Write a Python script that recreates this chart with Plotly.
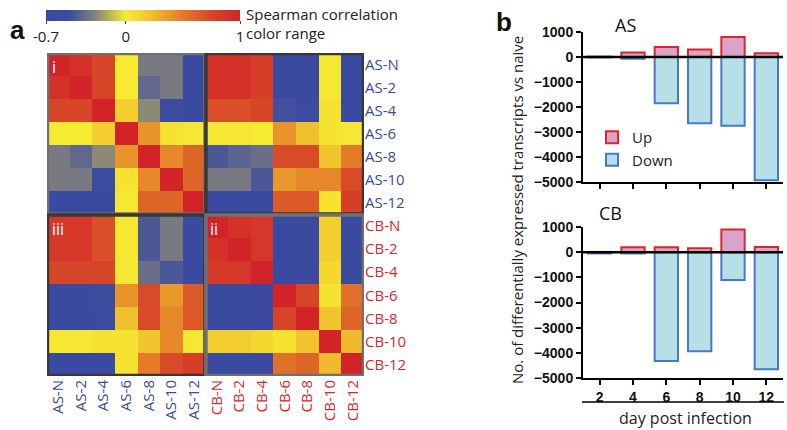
import plotly.graph_objects as go

W, H = 787, 430
def px(x): return x / W
def py(y): return 1 - y / H

labels = ["AS-N", "AS-2", "AS-4", "AS-6", "AS-8", "AS-10", "AS-12",
          "CB-N", "CB-2", "CB-4", "CB-6", "CB-8", "CB-10", "CB-12"]

corr = [
    [1.00, 0.90, 0.75, 0.00, -0.30, -0.30, -0.70,   0.90, 0.90, 0.80, -0.70, -0.70, 0.02, -0.70],
    [0.90, 1.00, 0.75, 0.00, -0.38, -0.30, -0.70,   0.90, 0.90, 0.80, -0.70, -0.70, 0.02, -0.70],
    [0.75, 0.75, 1.00, 0.15, -0.25, -0.58, -0.70,   0.70, 0.70, 0.75, -0.48, -0.58, 0.05, -0.70],
    [0.00, 0.00, 0.15, 1.00, 0.40, 0.05, 0.02,      0.02, 0.02, 0.00, 0.40, 0.22, 0.05, 0.02],
    [-0.30, -0.38, -0.25, 0.40, 1.00, 0.45, 0.60,   -0.45, -0.40, -0.35, 0.72, 0.72, 0.20, 0.50],
    [-0.30, -0.30, -0.58, 0.05, 0.45, 1.00, 0.60,   -0.30, -0.30, -0.45, 0.38, 0.45, 0.45, 0.72],
    [-0.70, -0.70, -0.70, 0.02, 0.60, 0.60, 1.00,   -0.70, -0.70, -0.70, 0.65, 0.65, 0.05, 0.80],
    [0.85, 0.85, 0.70, 0.02, -0.45, -0.30, -0.70,   1.00, 0.90, 0.85, -0.70, -0.70, 0.15, -0.70],
    [0.85, 0.85, 0.70, 0.02, -0.45, -0.30, -0.70,   0.90, 1.00, 0.85, -0.70, -0.70, 0.15, -0.70],
    [0.75, 0.75, 0.75, 0.02, -0.35, -0.45, -0.70,   0.85, 0.85, 1.00, -0.66, -0.66, 0.10, -0.70],
    [-0.70, -0.70, -0.50, 0.40, 0.72, 0.38, 0.65,   -0.70, -0.70, -0.66, 1.00, 0.75, 0.05, 0.55],
    [-0.70, -0.70, -0.58, 0.22, 0.72, 0.45, 0.65,   -0.70, -0.70, -0.66, 0.75, 1.00, 0.20, 0.60],
    [0.02, 0.02, 0.05, 0.05, 0.20, 0.45, 0.02,      0.15, 0.15, 0.10, 0.05, 0.20, 1.00, 0.25],
    [-0.70, -0.70, -0.70, 0.05, 0.50, 0.72, 0.80,   -0.70, -0.70, -0.70, 0.55, 0.60, 0.25, 1.00],
]

days = ["2", "4", "6", "8", "10", "12"]
as_up = [15, 180, 400, 300, 800, 150]
as_down = [-15, -70, -1850, -2650, -2750, -4930]
cb_up = [10, 200, 200, 160, 900, 210]
cb_down = [-50, -50, -4320, -3940, -1110, -4650]

colorbar_ticks = [-0.7, 0, 1]

BLUE_TXT = "#3b4aa3"
RED_TXT = "#d8282a"

cscale = [
    [0.00, "rgb(58,74,160)"],
    [0.12, "rgb(62,76,158)"],
    [0.25, "rgb(128,128,125)"],
    [0.41, "rgb(247,236,50)"],
    [0.55, "rgb(240,190,45)"],
    [0.70, "rgb(228,125,40)"],
    [0.85, "rgb(215,70,40)"],
    [1.00, "rgb(210,35,40)"],
]

def colored(lbl):
    c = BLUE_TXT if lbl.startswith("AS") else RED_TXT
    return f'<span style="color:{c}">{lbl}</span>'

fig = go.Figure()

idx = list(range(len(labels)))
fig.add_trace(go.Heatmap(
    z=corr, x=idx, y=idx, zmin=-0.7, zmax=1, colorscale=cscale,
    xgap=0, ygap=0, hoverinfo="skip",
    colorbar=dict(
        orientation="h", x=px(46), xanchor="left", y=py(10), yanchor="top",
        len=194, lenmode="pixels", thickness=11, thicknessmode="pixels",
        xpad=0, ypad=0, outlinewidth=0,
        tickvals=colorbar_ticks, ticktext=["-0.7", "0", "1"],
        ticks="outside", ticklen=3, tickcolor="#444",
        tickfont=dict(family="Open Sans", size=15, color="#222"),
    ),
    xaxis="x", yaxis="y",
))

bar_kw = dict(width=0.7)
up_style = dict(marker=dict(color="#d9a3cb", line=dict(color="#e0252a", width=2)))
dn_style = dict(marker=dict(color="#b6dfe6", line=dict(color="#4a78c8", width=2)))
xs = list(range(len(days)))

fig.add_trace(go.Bar(x=xs, y=as_up, name="Up", xaxis="x2", yaxis="y2", **bar_kw, **up_style))
fig.add_trace(go.Bar(x=xs, y=as_down, name="Down", xaxis="x2", yaxis="y2", **bar_kw, **dn_style))
fig.add_trace(go.Bar(x=xs, y=cb_up, name="Up", xaxis="x3", yaxis="y3", showlegend=False, **bar_kw, **up_style))
fig.add_trace(go.Bar(x=xs, y=cb_down, name="Down", xaxis="x3", yaxis="y3", showlegend=False, **bar_kw, **dn_style))

tickfont_b = dict(family="Arial", size=14, color="#111", weight="bold")
yax_common = dict(range=[-5000, 1000], tickvals=[1000, 0, -1000, -2000, -3000, -4000, -5000],
                  tickformat="d", showline=True, linecolor="black", linewidth=2,
                  ticks="outside", ticklen=5, tickwidth=2, tickcolor="black",
                  showgrid=False, zeroline=False, tickfont=tickfont_b, fixedrange=True)
xax_common = dict(range=[-0.5, 5.5], tickvals=xs, ticktext=days, showline=True, linecolor="black",
                  linewidth=2, ticks="outside", ticklen=5, tickwidth=2, tickcolor="black",
                  showgrid=False, zeroline=False, tickfont=tickfont_b)

fig.update_layout(
    width=W, height=H, margin=dict(l=0, r=0, t=0, b=0, autoexpand=False),
    paper_bgcolor="white", plot_bgcolor="white",
    barmode="overlay",
    font=dict(family="Open Sans", color="#222"),
    xaxis=dict(domain=[px(47), px(364)], tickvals=idx, ticktext=[colored(l) for l in labels],
               tickangle=-90, side="bottom", showgrid=False, zeroline=False,
               tickfont=dict(family="Open Sans", size=15), range=[-0.5, 13.5], ticks=""),
    yaxis=dict(domain=[py(376), py(53)], tickvals=idx, ticktext=[colored(l) for l in labels],
               side="right", showgrid=False, zeroline=False, autorange=False, range=[13.5, -0.5],
               tickfont=dict(family="Open Sans", size=15), ticks=""),
    xaxis2=dict(domain=[px(583), px(783)], anchor="y2", showticklabels=False, **{k: v for k, v in xax_common.items() if k != "tickfont"}),
    yaxis2=dict(domain=[py(182), py(32)], anchor="x2", **yax_common),
    xaxis3=dict(domain=[px(583), px(783)], anchor="y3", **xax_common),
    yaxis3=dict(domain=[py(378), py(227)], anchor="x3", **yax_common),
    legend=dict(x=px(592), y=py(121), xanchor="left", yanchor="top",
                bgcolor="rgba(0,0,0,0)", font=dict(family="Open Sans", size=15, color="#222"),
                itemwidth=30, tracegroupgap=2),
    showlegend=True,
)

shapes = []
quads = [((-0.5, 6.5), (-0.5, 6.5), "#707070", "i"),
         ((6.5, 13.5), (-0.5, 6.5), "#383838", None),
         ((-0.5, 6.5), (6.5, 13.5), "#383838", "iii"),
         ((6.5, 13.5), (6.5, 13.5), "#707070", "ii")]
for (x0, x1), (y0, y1), col, _ in quads:
    shapes.append(dict(type="rect", xref="x", yref="y", x0=x0 + 0.02, x1=x1 - 0.02,
                       y0=y0 + 0.02, y1=y1 - 0.02, line=dict(color=col, width=3.5), layer="above"))
for xr, yr in [("x2", "y2"), ("x3", "y3")]:
    shapes.append(dict(type="line", xref=f"{xr} domain", yref=yr, x0=0, x1=1, y0=0, y1=0,
                       line=dict(color="black", width=2.5), layer="above"))
shapes.append(dict(type="line", xref="paper", yref="paper", x0=px(582), x1=px(784),
                   y0=py(402), y1=py(402), line=dict(color="black", width=1.5)))
fig.update_layout(shapes=shapes)

ann = []
for (x0, x1), (y0, y1), col, tag in quads:
    if tag:
        ann.append(dict(x=x0 + 0.12, y=y0 + 0.05, xref="x", yref="y", text=tag, showarrow=False,
                        xanchor="left", yanchor="top", font=dict(family="Open Sans", size=16, color="white")))
ann += [
    dict(x=px(8), y=py(30), xref="paper", yref="paper", text="<b>a</b>", showarrow=False,
         xanchor="left", yanchor="middle", font=dict(family="Arial", size=26, color="#111")),
    dict(x=px(494), y=py(22), xref="paper", yref="paper", text="<b>b</b>", showarrow=False,
         xanchor="left", yanchor="middle", font=dict(family="Arial", size=26, color="#111")),
    dict(x=px(244), y=py(14), xref="paper", yref="paper", text="Spearman correlation", showarrow=False,
         xanchor="left", yanchor="middle", font=dict(family="Open Sans", size=15, color="#222")),
    dict(x=px(244), y=py(33), xref="paper", yref="paper", text="color range", showarrow=False,
         xanchor="left", yanchor="middle", font=dict(family="Open Sans", size=15, color="#222")),
    dict(x=px(625), y=py(25), xref="paper", yref="paper", text="AS", showarrow=False,
         xanchor="center", yanchor="middle", font=dict(family="Open Sans", size=18, color="#111")),
    dict(x=px(610), y=py(213), xref="paper", yref="paper", text="CB", showarrow=False,
         xanchor="center", yanchor="middle", font=dict(family="Open Sans", size=18, color="#111")),
    dict(x=px(517), y=py(210), xref="paper", yref="paper",
         text="No. of differentially expressed transcripts vs naive", showarrow=False, textangle=-90,
         xanchor="center", yanchor="middle", font=dict(family="Open Sans", size=15, color="#222")),
    dict(x=px(685), y=py(418), xref="paper", yref="paper", text="day post infection", showarrow=False,
         xanchor="center", yanchor="middle", font=dict(family="Open Sans", size=16, color="#222")),
]
fig.update_layout(annotations=ann)

fig.write_html("out.html", config={"displayModeBar": False},
               post_script="document.body.style.margin='0';document.body.style.overflow='hidden';")
